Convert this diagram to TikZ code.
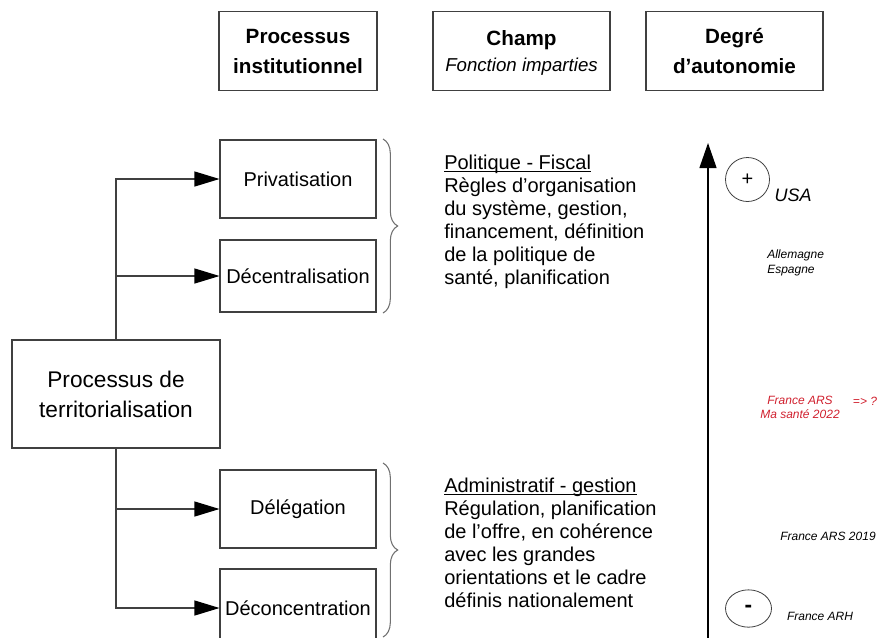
\documentclass[tikz,border=0pt]{standalone}
\usepackage{fontspec}
\setmainfont{Liberation Sans}
\usetikzlibrary{arrows.meta,decorations.pathreplacing,shapes.geometric,positioning}
\definecolor{lineGray}{HTML}{404040}
\definecolor{braceGray}{HTML}{707070}
\definecolor{arsRed}{HTML}{D0202E}
\newcommand{\fieldtitle}[1]{\underline{\raisebox{0pt}[\height][0pt]{#1}}}

\begin{document}
\begin{tikzpicture}[x=0.75pt,y=-0.75pt,
  box/.style={draw=lineGray,line width=0.8pt,inner sep=0pt,align=center,minimum width=117pt,minimum height=58.5pt,font=\fontsize{15}{18}\selectfont},
  header/.style={box,minimum width=132.75pt,minimum height=59.25pt,font=\fontsize{15.5}{22.5}\selectfont\bfseries},
  branch/.style={draw=lineGray,line width=0.8pt,-{Triangle[length=18.75pt,width=11.25pt,color=black]}},
  field/.style={anchor=north west,inner sep=0pt,align=left,font=\fontsize{15}{17.25}\selectfont},
  level/.style={ellipse,draw=lineGray,line width=0.6pt,inner sep=0pt,font=\fontsize{15}{18}\selectfont},
  country/.style={inner sep=0pt,align=center,font=\fontsize{9}{10.8}\selectfont\itshape},
  bracegroup/.style={draw=braceGray,line width=0.8pt,decorate,decoration={brace,amplitude=11pt}}]
\useasboundingbox (0,0) rectangle (878,637);
\node [header,minimum width=118.5pt,text depth=-3pt] (HeadProc) at (298,51) {Processus\\institutionnel};
\node [header,font=\fontsize{15.5}{19.5}\selectfont,text depth=-3pt] (HeadChamp) at (521.5,51) {\textbf{Champ}\\\mdseries\itshape\fontsize{14}{19.5}\selectfont Fonction imparties};
\node [header,text depth=-3pt] (HeadDegre) at (734.5,51) {Degré\\d’autonomie};
\node [box,minimum width=156pt,minimum height=81pt,font=\fontsize{17}{22.5}\selectfont] (Territ) at (116,394) {Processus de\\territorialisation};
\node [box] (Privat) at (298,179) {Privatisation};
\node [box,minimum height=54pt] (Decent) at (298,276) {Décentralisation};
\node [box] (Deleg) at (298,509) {Délégation};
\node [box] (Deconc) at (298,608) {Déconcentration};
\draw [branch] (Territ.north) |- (Privat.west);
\draw [branch] (Territ.north |- Decent.west) -- (Decent.west);
\draw [branch] (Territ.south) |- (Deconc.west);
\draw [branch] (Territ.south |- Deleg.west) -- (Deleg.west);
\draw [bracegroup] (383,139) -- (383,313);
\draw [bracegroup] (383,463) -- (383,637);
\node [field] (ChampPol) at (444,155) {\fieldtitle{Politique - Fiscal}\\Règles d’organisation\\du système, gestion,\\financement, définition\\de la politique de\\santé, planification};
\node [field] (ChampAdm) at (444,478) {\fieldtitle{Administratif - gestion}\\Régulation, planification\\de l’offre, en cohérence\\avec les grandes\\orientations et le cadre\\définis nationalement};
\coordinate (AxisBottom) at (708,645);
\coordinate (AxisTop) at (708,143);
\draw [line width=0.9pt,-{Triangle[length=18.75pt,width=12.75pt]}] (AxisBottom) -- (AxisTop);
\node [level,minimum width=33pt,minimum height=33pt] (Plus) at (747.5,179.5) {+};
\node [country,font=\fontsize{13.5}{16}\selectfont\itshape] (Usa) at (793,195) {USA};
\node [country,align=left,anchor=west] (AllEsp) at (767,263) {Allemagne\\Espagne};
\node [country,text=arsRed] (ArsSante) at (800,407.5) {France ARS\\Ma santé 2022};
\node [country,text=arsRed] (ArsQuest) at (865,401) {=> ?};
\node [country] (Ars2019) at (828,536) {France ARS 2019};
\node [level,minimum width=34.5pt,minimum height=28pt,font=\fontsize{17}{18}\selectfont\bfseries] (Minus) at (748.5,608.5) {-};
\node [country] (Arh) at (820,616) {France ARH};
\end{tikzpicture}
\end{document}
